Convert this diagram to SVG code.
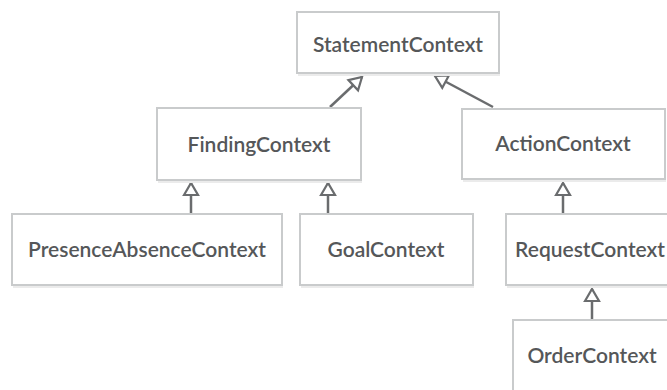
<svg xmlns="http://www.w3.org/2000/svg" width="667" height="390" viewBox="0 0 667 390">
<defs>
<style>
.box{fill:#ffffff;stroke:#c9cbcc;stroke-width:2}
.sh{fill:#ebebeb}
.lbl{font-family:Lato,"Open Sans","Liberation Sans",sans-serif;font-size:21px;font-weight:600;fill:#555759;text-anchor:middle}
.edge{stroke:#6a6c6e;stroke-width:2.5;fill:none}
</style>
<marker id="tri" markerWidth="20" markerHeight="20" refX="14" refY="9" orient="auto" markerUnits="userSpaceOnUse">
<path d="M2,2 L14,9 L2,16 Z" fill="#ffffff" stroke="#6a6c6e" stroke-width="2.2"/>
</marker>
</defs>
<rect width="667" height="390" fill="#ffffff"/>
<g id="connectors">
<line class="edge" x1="330" y1="107" x2="362" y2="77" marker-end="url(#tri)"/>
<line class="edge" x1="493" y1="107" x2="435" y2="76" marker-end="url(#tri)"/>
<line class="edge" x1="191" y1="213" x2="191" y2="183" marker-end="url(#tri)"/>
<line class="edge" x1="328" y1="213" x2="328" y2="183" marker-end="url(#tri)"/>
<line class="edge" x1="563" y1="213" x2="563" y2="183" marker-end="url(#tri)"/>
<line class="edge" x1="592" y1="319" x2="592" y2="289" marker-end="url(#tri)"/>
</g>
<g id="StatementContext">
<rect class="sh" x="298" y="14" width="202" height="62"/>
<rect class="box" x="297" y="12" width="202" height="61"/>
<text class="lbl" x="398" y="52">StatementContext</text>
</g>
<g id="FindingContext">
<rect class="sh" x="158" y="110" width="204" height="73"/>
<rect class="box" x="157" y="108" width="204" height="72"/>
<text class="lbl" x="259" y="152">FindingContext</text>
</g>
<g id="ActionContext">
<rect class="sh" x="463" y="111" width="203" height="71"/>
<rect class="box" x="462" y="109" width="203" height="70"/>
<text class="lbl" x="563" y="151">ActionContext</text>
</g>
<g id="PresenceAbsenceContext">
<rect class="sh" x="13" y="216" width="270" height="72"/>
<rect class="box" x="12" y="214" width="270" height="71"/>
<text class="lbl" x="147" y="257">PresenceAbsenceContext</text>
</g>
<g id="GoalContext">
<rect class="sh" x="301" y="216" width="173" height="72"/>
<rect class="box" x="300" y="214" width="173" height="71"/>
<text class="lbl" x="386" y="257">GoalContext</text>
</g>
<g id="RequestContext">
<rect class="sh" x="507" y="216" width="170" height="72"/>
<rect class="box" x="506" y="214" width="170" height="71"/>
<text class="lbl" x="590" y="257">RequestContext</text>
</g>
<g id="OrderContext">
<rect class="sh" x="514" y="322" width="170" height="80"/>
<rect class="box" x="513" y="320" width="170" height="80"/>
<text class="lbl" x="592" y="363">OrderContext</text>
</g>
</svg>
